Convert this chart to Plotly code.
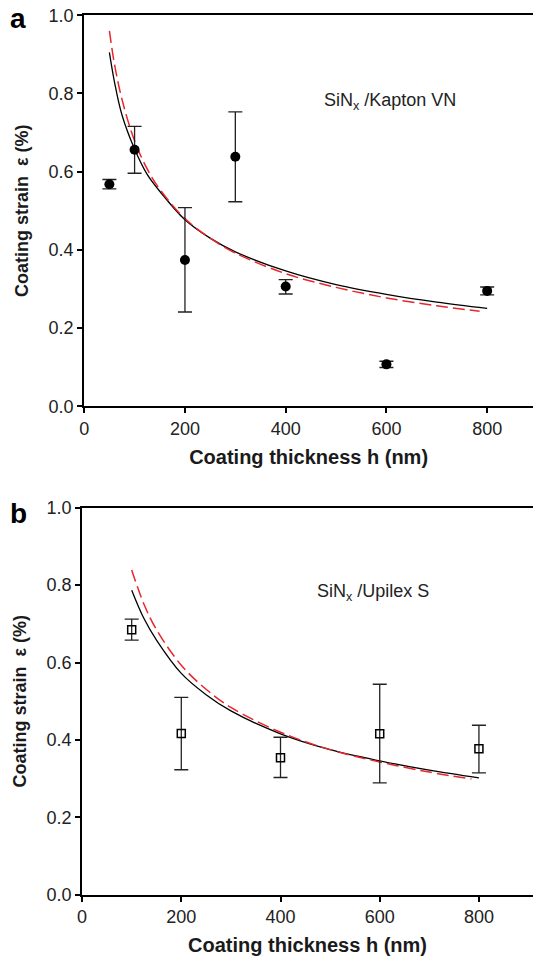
import plotly.graph_objects as go

# --- panel a: SiNx / Kapton VN ---
h_a = [50, 100, 200, 300, 400, 600, 800]
eps_a = [0.568, 0.656, 0.374, 0.638, 0.306, 0.107, 0.295]
err_a_up = [0.012, 0.060, 0.134, 0.115, 0.018, 0.008, 0.010]
err_a_down = [0.012, 0.060, 0.133, 0.115, 0.019, 0.008, 0.010]

fit_a_h = [50, 60, 75, 100, 125, 150, 200, 250, 300, 400, 500, 600, 700, 800]
fit_a_black = [0.905, 0.830, 0.745, 0.658, 0.593, 0.550, 0.477, 0.430, 0.395, 0.346, 0.311, 0.286, 0.266, 0.250]
fit_a_red_h = [50, 60, 75, 100, 125, 150, 200, 250, 300, 400, 500, 600, 700, 785]
fit_a_red = [0.960, 0.876, 0.785, 0.679, 0.607, 0.555, 0.480, 0.430, 0.392, 0.339, 0.304, 0.277, 0.257, 0.243]

# --- panel b: SiNx / Upilex S ---
h_b = [100, 200, 400, 600, 800]
eps_b = [0.685, 0.417, 0.354, 0.416, 0.377]
err_b_up = [0.027, 0.093, 0.053, 0.128, 0.061]
err_b_down = [0.027, 0.094, 0.051, 0.127, 0.062]

fit_b_h = [100, 125, 150, 200, 250, 300, 400, 500, 600, 700, 800]
fit_b_black = [0.787, 0.713, 0.658, 0.572, 0.517, 0.475, 0.416, 0.375, 0.346, 0.322, 0.302]
fit_b_red_h = [100, 125, 150, 200, 250, 300, 400, 500, 600, 700, 785]
fit_b_red = [0.839, 0.750, 0.685, 0.593, 0.531, 0.484, 0.420, 0.375, 0.343, 0.317, 0.299]

FONT = "Liberation Sans, Arial, sans-serif"

fig = go.Figure()

# a
fig.add_trace(go.Scatter(x=fit_a_h, y=fit_a_black, mode="lines", line=dict(color="black", width=1.3, shape="spline"),
                         xaxis="x", yaxis="y"))
fig.add_trace(go.Scatter(x=fit_a_red_h, y=fit_a_red, mode="lines",
                         line=dict(color="#e8262b", width=1.5, dash="12px,5px", shape="spline"),
                         xaxis="x", yaxis="y"))
fig.add_trace(go.Scatter(x=h_a, y=eps_a, mode="markers",
                         marker=dict(symbol="circle", size=10, color="black"),
                         error_y=dict(type="data", array=err_a_up, arrayminus=err_a_down,
                                      color="#222222", thickness=1.3, width=7),
                         xaxis="x", yaxis="y"))

# b
fig.add_trace(go.Scatter(x=fit_b_h, y=fit_b_black, mode="lines", line=dict(color="black", width=1.3, shape="spline"),
                         xaxis="x2", yaxis="y2"))
fig.add_trace(go.Scatter(x=fit_b_red_h, y=fit_b_red, mode="lines",
                         line=dict(color="#e8262b", width=1.5, dash="12px,5px", shape="spline"),
                         xaxis="x2", yaxis="y2"))
fig.add_trace(go.Scatter(x=h_b, y=eps_b, mode="markers",
                         marker=dict(symbol="square-open", size=8, color="black", line=dict(width=1.5)),
                         error_y=dict(type="data", array=err_b_up, arrayminus=err_b_down,
                                      color="#222222", thickness=1.3, width=7),
                         xaxis="x2", yaxis="y2"))

xcommon = dict(showline=True, linecolor="black", linewidth=2, mirror=True, ticks="outside", ticklen=5,
               tickwidth=1.5, tickcolor="black", showgrid=False, zeroline=False, dtick=200, tick0=0,
               automargin=False,
               tickfont=dict(size=18, color="#222222", family=FONT),
               title=dict(text="<b>Coating thickness h (nm)</b>", font=dict(size=20, color="#1a1a1a", family=FONT),
                          standoff=12))
ycommon = dict(showline=True, linecolor="black", linewidth=2, mirror=False, ticks="outside", ticklen=5,
               tickwidth=1.5, tickcolor="black", showgrid=False, zeroline=False, dtick=0.2, tick0=0,
               range=[0, 1.0], tickformat=".1f", automargin=False,
               tickfont=dict(size=18, color="#222222", family=FONT),
               title=dict(text="<b>Coating strain  ε (%)</b>", font=dict(size=18, color="#1a1a1a", family=FONT),
                          standoff=15))

fig.update_layout(
    width=533, height=958,
    margin=dict(l=0, r=0, t=0, b=0),
    paper_bgcolor="white", plot_bgcolor="white",
    showlegend=False,
    font=dict(family=FONT, color="#222222"),
    xaxis=dict(xcommon, domain=[0.158, 1.0], range=[0, 891], anchor="y"),
    yaxis=dict(ycommon, domain=[0.576, 0.984], anchor="x"),
    xaxis2=dict(xcommon, domain=[0.154, 1.0], range=[0, 909], anchor="y2"),
    yaxis2=dict(ycommon, domain=[0.066, 0.470], anchor="x2"),
    annotations=[
        dict(text="<b>a</b>", x=18 / 533, y=1 - 19 / 958, xref="paper", yref="paper", showarrow=False,
             font=dict(size=28, color="black", family=FONT), xanchor="center", yanchor="middle"),
        dict(text="<b>b</b>", x=18 / 533, y=1 - 513 / 958, xref="paper", yref="paper", showarrow=False,
             font=dict(size=28, color="black", family=FONT), xanchor="center", yanchor="middle"),
        dict(text="SiN<sub>x</sub> /Kapton VN", x=472, y=0.78, xref="x", yref="y", showarrow=False,
             xanchor="left", yanchor="middle", font=dict(size=18, color="#222222", family=FONT)),
        dict(text="SiN<sub>x</sub> /Upilex S", x=470, y=0.78, xref="x2", yref="y2", showarrow=False,
             xanchor="left", yanchor="middle", font=dict(size=18, color="#222222", family=FONT)),
    ],
)

# page default body margin would shift the figure by 8px and add scrollbars
fig.write_html("out.html", config={"displayModeBar": False},
               post_script="document.body.style.margin='0';document.body.style.overflow='hidden';")
